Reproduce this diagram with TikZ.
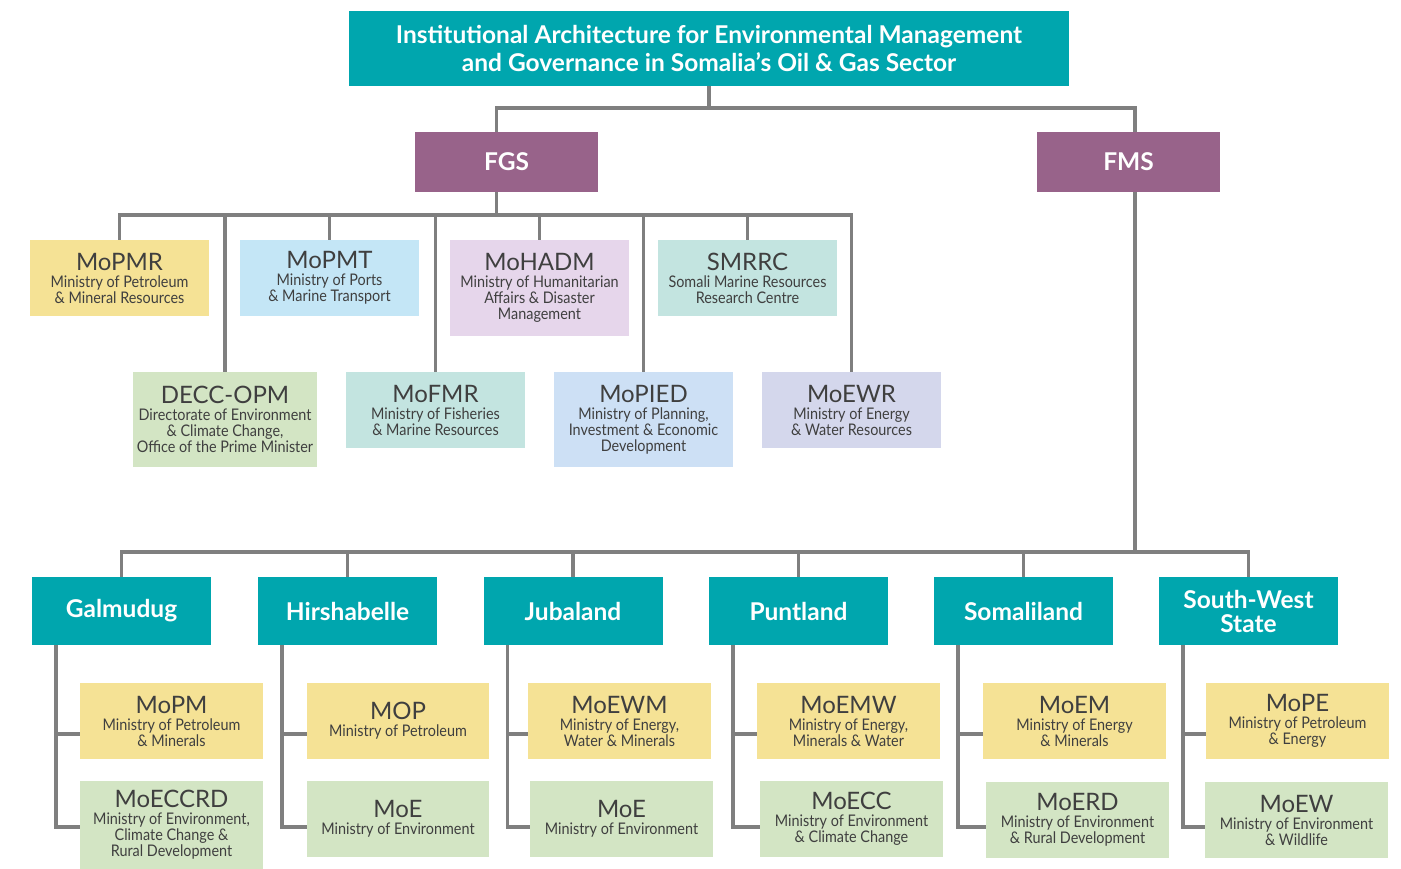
\documentclass[tikz,border=0pt]{standalone}
\usepackage{fontspec}
\setmainfont{Lato}
\newfontfamily\subfont[FakeStretch=0.9]{Lato}
\definecolor{teal}{HTML}{00A6AE}
\definecolor{plum}{HTML}{98638A}
\definecolor{sand}{HTML}{F5E295}
\definecolor{sky}{HTML}{C4E6F6}
\definecolor{lilac}{HTML}{E6D6EB}
\definecolor{mint}{HTML}{C3E4E0}
\definecolor{sage}{HTML}{D3E5C4}
\definecolor{ice}{HTML}{CDE0F5}
\definecolor{peri}{HTML}{D4D7EC}
\definecolor{ink}{HTML}{3F3F3F}
\definecolor{wire}{HTML}{7F7F7F}
\newcommand\abbr[1]{{\rmfamily\fontsize{24}{24}\selectfont #1}\\[1pt]}
\begin{document}
\begin{tikzpicture}[x=1pt,y=-1pt,
  conn/.style={draw=wire, line width=3.8pt},
  box/.style={inner sep=0pt, outer sep=0pt, align=center, text=ink,
    minimum width=179pt, minimum height=76pt,
    font=\subfont\fontsize{16}{16}\selectfont},
  head/.style={inner sep=0pt, outer sep=0pt, align=center, text=white,
    minimum width=179pt, minimum height=68pt,
    font=\bfseries\fontsize{24.5}{24}\selectfont},
]
\useasboundingbox (0,0) rectangle (1401,869);

% top level
\node[head, fill=teal, minimum width=720pt, minimum height=75pt,
  font=\bfseries\fontsize{24.5}{28}\selectfont] (title) at (709,48.5)
  {Institutional Architecture for Environmental Management\\
   and Governance in Somalia’s Oil \& Gas Sector};
\node[head, fill=plum, minimum width=183pt, minimum height=60pt] (fgs) at (506.5,162) {FGS};
\node[head, fill=plum, minimum width=183pt, minimum height=60pt] (fms) at (1128.5,162) {FMS};

% federal ministries and agencies
\node[box, fill=sand] (mopmr) at (119.5,278) {\abbr{MoPMR}Ministry of Petroleum\\ \& Mineral Resources};
\node[box, fill=sky] (mopmt) at (329.5,278) {\abbr{MoPMT}Ministry of Ports\\ \& Marine Transport};
\node[box, fill=lilac, minimum height=96pt] (mohadm) at (539.5,288) {\abbr{MoHADM}Ministry of Humanitarian\\ Affairs \& Disaster\\ Management};
\node[box, fill=mint] (smrrc) at (747.5,278) {\abbr{SMRRC}Somali Marine Resources\\ Research Centre};
\node[box, fill=sage, minimum width=184pt, minimum height=95pt] (decc) at (225,419.5) {\abbr{DECC-OPM}Directorate of Environment\\ \& Climate Change,\\ Office of the Prime Minister};
\node[box, fill=mint] (mofmr) at (435.5,410) {\abbr{MoFMR}Ministry of Fisheries\\ \& Marine Resources};
\node[box, fill=ice, minimum height=95pt] (mopied) at (643.5,419.5) {\abbr{MoPIED}Ministry of Planning,\\ Investment \& Economic\\ Development};
\node[box, fill=peri] (moewr) at (851.5,410) {\abbr{MoEWR}Ministry of Energy\\ \& Water Resources};

% member states
\node[head, fill=teal] (gal) at (121.5,611) {Galmudug};
\node[head, fill=teal] (hir) at (347.5,611) {Hirshabelle};
\node[head, fill=teal] (jub) at (573,611) {Jubaland};
\node[head, fill=teal] (pun) at (798.5,611) {Puntland};
\node[head, fill=teal] (som) at (1023.5,611) {Somaliland};
\node[head, fill=teal] (sws) at (1248.5,611) {South-West\\State};

% state ministries
\node[box, fill=sand, minimum width=183pt] (galpet) at (171.5,721) {\abbr{MoPM}Ministry of Petroleum\\ \& Minerals};
\node[box, fill=sage, minimum width=183pt, minimum height=88pt] (galenv) at (171.5,825) {\abbr{MoECCRD}Ministry of Environment,\\ Climate Change \&\\ Rural Development};
\node[box, fill=sand, minimum width=182pt] (hirpet) at (398,721) {\abbr{MOP}Ministry of Petroleum};
\node[box, fill=sage, minimum width=182pt] (hirenv) at (398,819) {\abbr{MoE}Ministry of Environment};
\node[box, fill=sand, minimum width=183pt] (jubpet) at (619.5,721) {\abbr{MoEWM}Ministry of Energy,\\ Water \& Minerals};
\node[box, fill=sage, minimum width=183pt] (jubenv) at (621.5,819) {\abbr{MoE}Ministry of Environment};
\node[box, fill=sand, minimum width=183pt] (punpet) at (848.5,721) {\abbr{MoEMW}Ministry of Energy,\\ Minerals \& Water};
\node[box, fill=sage, minimum width=183pt] (punenv) at (851.5,819) {\abbr{MoECC}Ministry of Environment\\ \& Climate Change};
\node[box, fill=sand, minimum width=183pt] (sompet) at (1074.5,721) {\abbr{MoEM}Ministry of Energy\\ \& Minerals};
\node[box, fill=sage, minimum width=183pt] (somenv) at (1077.5,820) {\abbr{MoERD}Ministry of Environment\\ \& Rural Development};
\node[box, fill=sand, minimum width=183pt] (swspet) at (1297.5,721) {\abbr{MoPE}Ministry of Petroleum\\ \& Energy};
\node[box, fill=sage, minimum width=183pt] (swsenv) at (1296.5,820) {\abbr{MoEW}Ministry of Environment\\ \& Wildlife};

% title to the two levels of government
\draw[conn] (title.south) -- ++(0,22) -| ([xshift=-10pt]fgs.north);
\draw[conn] (title.south) -- ++(0,22) -| ([xshift=6.5pt]fms.north);

% federal bar
\draw[conn] ([xshift=-10pt]fgs.south) -- ++(0,23) coordinate (fbar);
\foreach \n in {mopmr,decc,mopmt,mofmr,mohadm,mopied,smrrc,moewr}
  \draw[conn] (fbar) -| (\n.north);

% state bar
\draw[conn] ([xshift=6.5pt]fms.south) -- ++(0,360) coordinate (sbar);
\foreach \n in {gal,hir,jub,pun,som,sws}
  \draw[conn] (sbar) -| (\n.north);

% state ministries hanging from each state
\foreach \s/\p/\e/\off in {gal/galpet/galenv/-2, hir/hirpet/hirenv/-8,
    jub/jubpet/jubenv/-8, pun/punpet/punenv/-8, som/sompet/somenv/-7,
    sws/swspet/swsenv/-7} {
  \draw[conn] ([xshift=24pt]\s.south west) |- ([yshift=-13pt]\p.west);
  \draw[conn] ([xshift=24pt]\s.south west) |- ([yshift=\off pt]\e.west);
}
\end{tikzpicture}
\end{document}
